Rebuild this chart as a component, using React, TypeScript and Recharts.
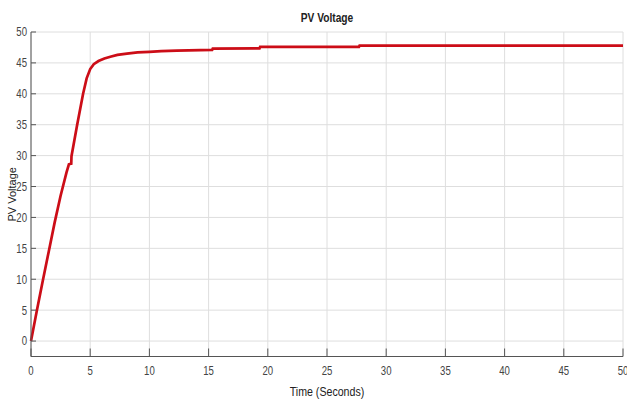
import React from "react";
import { LineChart, Line, XAxis, YAxis, CartesianGrid } from "recharts";

// Simulated PV array voltage over time
const timeSeconds = [
  0, 0.5, 1, 1.5, 2, 2.5, 3, 3.2, 3.4, 3.42, 3.9, 4.4, 4.7, 5.0, 5.3, 5.7, 6.2,
  6.7, 7.3, 8.1, 9, 10, 11, 12.3, 15.3, 15.35, 19.3, 19.35, 27.7, 27.75, 50,
];
const pvVoltage = [
  0, 5, 9.8, 14.5, 19.2, 23.5, 27.3, 28.6, 28.7, 29.9, 35, 40, 42.5, 44, 44.8,
  45.3, 45.7, 46.0, 46.3, 46.5, 46.7, 46.8, 46.9, 47.0, 47.1, 47.3, 47.35, 47.6,
  47.6, 47.8, 47.8,
];
const xTicks = [0, 5, 10, 15, 20, 25, 30, 35, 40, 45, 50];
const yTicks = [0, 5, 10, 15, 20, 25, 30, 35, 40, 45, 50];

const data = timeSeconds.map((t, i) => ({ t, v: pvVoltage[i] }));

const NARROW = "'Liberation Sans Narrow', 'Liberation Sans', Arial, sans-serif";
const SANS = "'Liberation Sans', Arial, sans-serif";

const XTick = (props: any) => {
  const { x, y, payload } = props;
  return (
    <text
      transform={`translate(${x},${y}) scale(0.8,1)`}
      textAnchor="middle"
      dominantBaseline="hanging"
      fontFamily={NARROW}
      fontSize={12}
      fill="#444"
    >
      {payload.value}
    </text>
  );
};

const YTick = (props: any) => {
  const { x, y, payload } = props;
  return (
    <text
      transform={`translate(${x},${y}) scale(0.8,1)`}
      textAnchor="end"
      dominantBaseline="central"
      fontFamily={NARROW}
      fontSize={12}
      fill="#444"
    >
      {payload.value}
    </text>
  );
};

const XLabel = (props: any) => {
  const { viewBox } = props;
  const cx = viewBox.x + viewBox.width / 2;
  return (
    <text
      transform={`translate(${cx},396) scale(0.85,1)`}
      textAnchor="middle"
      fontFamily={NARROW}
      fontSize={12.5}
      fill="#222"
    >
      Time (Seconds)
    </text>
  );
};

const YLabel = (props: any) => {
  const { viewBox } = props;
  const cy = viewBox.y + viewBox.height / 2;
  return (
    <text
      transform={`translate(16,${cy}) rotate(-90)`}
      textAnchor="middle"
      fontFamily={SANS}
      fontSize={11}
      fill="#222"
    >
      PV Voltage
    </text>
  );
};

export default function App() {
  return (
    <div
      style={{
        position: "absolute",
        left: 0,
        top: 0,
        width: 627,
        height: 400,
        background: "#fff",
      }}
    >
      <div
        style={{
          position: "absolute",
          top: 12,
          left: 227,
          width: 200,
          textAlign: "center",
          fontFamily: NARROW,
          fontWeight: "bold",
          fontSize: 12,
          lineHeight: "12px",
          color: "#222",
          transform: "scaleX(0.85)",
        }}
      >
        PV Voltage
      </div>
      <LineChart
        width={627}
        height={400}
        data={data}
        margin={{ top: 32, right: 4, left: 0, bottom: 0 }}
      >
        <CartesianGrid stroke="#dedede" strokeWidth={1} />
        <XAxis
          dataKey="t"
          type="number"
          domain={[0, 50]}
          ticks={xTicks}
          interval={0}
          height={43.5}
          stroke="#555"
          tickSize={-8}
          tickMargin={18}
          tick={<XTick />}
          label={<XLabel />}
        />
        <YAxis
          type="number"
          domain={[-2.5, 50]}
          ticks={yTicks}
          interval={0}
          width={31}
          stroke="#555"
          tickSize={-5}
          tickMargin={9}
          tick={<YTick />}
          label={<YLabel />}
        />
        <Line
          type="linear"
          dataKey="v"
          stroke="#cc0d17"
          strokeWidth={2.7}
          dot={false}
          isAnimationActive={false}
        />
      </LineChart>
    </div>
  );
}
